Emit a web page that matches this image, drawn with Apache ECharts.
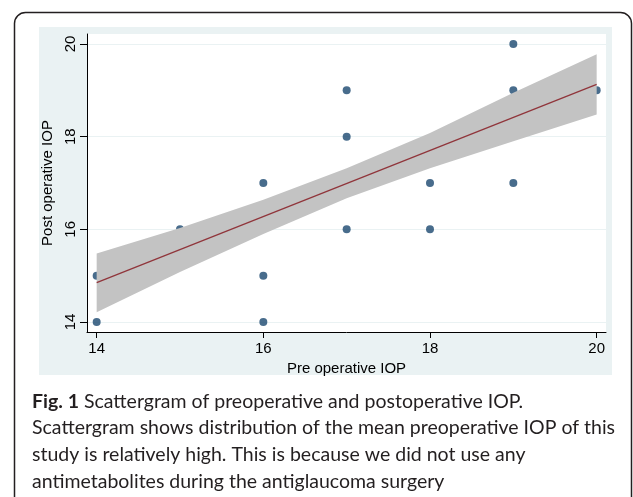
<!DOCTYPE html>
<html><head><meta charset="utf-8">
<script src="https://cdn.jsdelivr.net/npm/echarts@6/dist/echarts.min.js"></script>
<style>html,body{margin:0;padding:0;background:#fff;}#c{width:633px;height:497px;}</style>
</head><body><div id="c"></div>
<script>
// Scatter data (pre vs post operative IOP)
const preIOP  = [14, 14, 15, 16, 16, 16, 17, 17, 17, 18, 18, 19, 19, 19, 20];
const postIOP = [14, 15, 16, 14, 15, 17, 16, 18, 19, 16, 17, 17, 19, 20, 19];
// Fitted line
const fitX = [14, 20];
const fitY = [14.85, 19.13];
// Confidence band
const ciX     = [14, 15, 16, 17, 18, 19, 20];
const ciUpper = [15.48, 16.03, 16.64, 17.32, 18.08, 18.95, 19.78];
const ciLower = [14.21, 15.08, 15.90, 16.67, 17.32, 17.90, 18.48];
// Tick labels
const xTicks = [14, 16, 18, 20];
const yTicks = [14, 16, 18, 20];
const xTitle = 'Pre operative IOP';
const yTitle = 'Post operative IOP';
const captionBold = 'Fig. 1';
const captionLines = [
  ' Scattergram of preoperative and postoperative IOP.',
  'Scattergram shows distribution of the mean preoperative IOP of this',
  'study is relatively high. This is because we did not use any',
  'antimetabolites during the antiglaucoma surgery'
];

const capFont = "Lato, 'Open Sans', sans-serif";
const cv = document.createElement('canvas').getContext('2d');
cv.font = "16px " + capFont;
const w2 = cv.measureText(captionLines[1]).width;
const capSize = Math.max(14, Math.min(19.5, 16 * 585 / w2 * 1.028));

const chart = echarts.init(document.getElementById('c'), null, {renderer: 'canvas'});
const axisFont = {fontFamily: "'Liberation Sans', Arial, sans-serif", fontSize: 15, color: '#000'};

const capElems = captionLines.map((t, i) => {
  const top = 405 + i * 26.7 - capSize * 0.7;
  if (i === 0) {
    return {
      type: 'text', left: 32, top: top,
      style: {
        text: '{b|' + captionBold + '}' + t,
        rich: {b: {fontWeight: 'bold', fontSize: capSize, fontFamily: capFont, fill: '#231f20'}},
        fontSize: capSize, fontFamily: capFont, fill: '#231f20'
      }
    };
  }
  return {
    type: 'text', left: 32, top: top,
    style: {text: t, fontSize: capSize, fontFamily: capFont, fill: '#231f20'}
  };
});

chart.setOption({
  animation: false,
  grid: {left: 87, top: 34, right: 27, bottom: 165, show: true, backgroundColor: '#ffffff', borderWidth: 0},
  graphic: [
    {type: 'rect', z: -10, shape: {x: 14.5, y: 12.5, width: 617, height: 520, r: 11},
     style: {fill: '#ffffff', stroke: '#231f20', lineWidth: 1.5}},
    {type: 'rect', z: -5, shape: {x: 39, y: 27, width: 573, height: 348},
     style: {fill: '#eaf2f3'}}
  ].concat(capElems),
  xAxis: {
    type: 'value', min: 13.884, max: 20.112,
    axisLine: {show: true, onZero: false, lineStyle: {color: '#000', width: 1}},
    axisTick: {show: true, customValues: xTicks, length: 6, lineStyle: {color: '#000', width: 1}},
    axisLabel: Object.assign({customValues: xTicks, margin: 9}, axisFont),
    splitLine: {show: false},
    name: xTitle, nameLocation: 'middle', nameGap: 21,
    nameTextStyle: axisFont
  },
  yAxis: {
    type: 'value', min: 13.784, max: 20.216,
    axisLine: {show: true, onZero: false, lineStyle: {color: '#000', width: 1}},
    axisTick: {show: true, customValues: yTicks, length: 7, lineStyle: {color: '#000', width: 1}},
    axisLabel: Object.assign({customValues: yTicks, margin: 9, rotate: 90}, axisFont),
    splitLine: {show: true, lineStyle: {color: '#eaf2f3', width: 1.2}},
    name: yTitle, nameLocation: 'middle', nameGap: 26,
    nameTextStyle: axisFont
  },
  series: [
    {
      type: 'scatter', z: 2, symbol: 'circle', symbolSize: 8,
      itemStyle: {color: '#1a476f'},
      data: preIOP.map((x, i) => [x, postIOP[i]])
    },
    {
      type: 'custom', z: 3, silent: true,
      data: [[ciX[0], ciLower[0]]],
      renderItem: (params, api) => {
        const pts = [];
        for (let i = 0; i < ciX.length; i++) pts.push(api.coord([ciX[i], ciUpper[i]]));
        for (let i = ciX.length - 1; i >= 0; i--) pts.push(api.coord([ciX[i], ciLower[i]]));
        return {type: 'polygon', shape: {points: pts}, style: {fill: '#c3c3c3'}};
      }
    },
    {
      type: 'line', z: 4, showSymbol: false, silent: true,
      lineStyle: {color: '#90353b', width: 1.3},
      data: fitX.map((x, i) => [x, fitY[i]])
    }
  ]
});
</script></body></html>
